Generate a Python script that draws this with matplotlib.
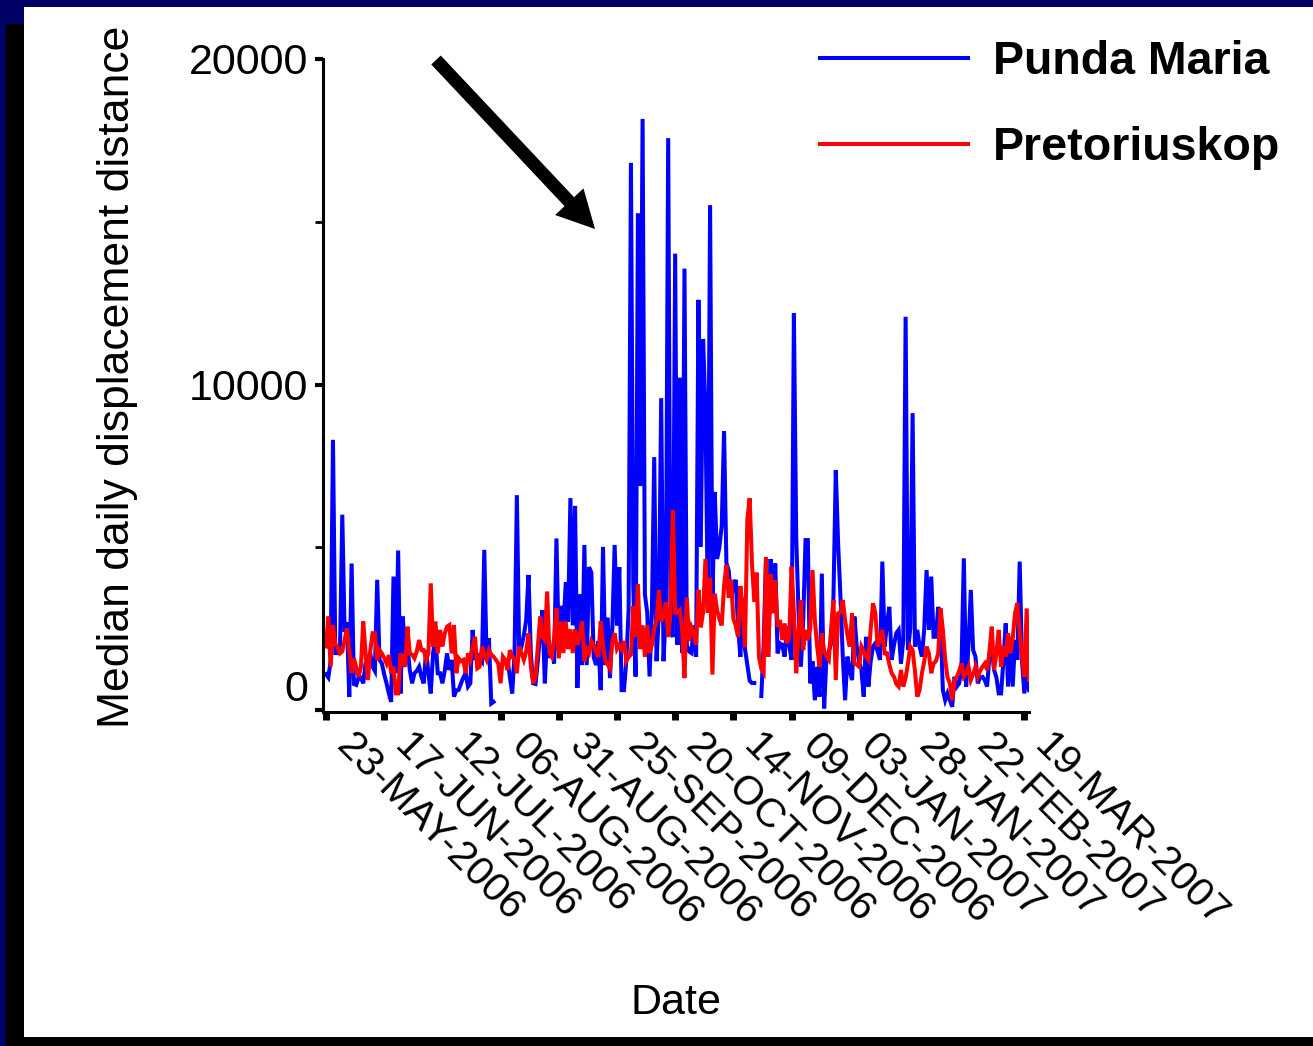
import numpy as np
import matplotlib
matplotlib.use("Agg")
import matplotlib.pyplot as plt
import matplotlib.transforms as mtransforms
from matplotlib.patches import Rectangle
from matplotlib.lines import Line2D

nan = np.nan

# median daily displacement (m), one value per day from 23 May 2006
start_day = "2006-05-23"
punda_maria = [
    1100, 1000, 1500, 8300, 1750, 1750, 1800, 6000, 2400, 2700,
    400, 4500, 800, 770, 1000, 1000, 820, 1430, 1600, 1740,
    1330, 1200, 4000, 1540, 1430, 1100, 820, 510, 250, 4100,
    1130, 4900, 510, 2870, 1740, 1950, 1230, 820, 1130, 1200,
    1330, 1020, 820, 1840, 1130, 510, 1740, 2250, 1130, 1130,
    820, 1200, 1740, 1230, 1540, 410, 600, 620, 820, 1000,
    1130, 720, 820, 2460, 1540, 1700, 1600, 1500, 4920, 1540,
    2200, 200, 250, nan, nan, nan, nan, nan, 1540, 1000,
    510, 1740, 6600, 1740, 1950, 2300, 2760, 4150, 1740, 820,
    800, 1500, 2350, 3070, 820, 2350, 1600, 1840, 1430, 5270,
    1840, 3200, 2500, 3930, 2720, 6510, 2600, 6270, 680, 3560,
    1380, 5070, 1380, 4390, 4220, 1630, 1380, 2120, 610, 5010,
    1380, 2840, 980, 2500, 5070, 2600, 4390, 610, 610, 1500,
    3070, 16810, 3810, 1030, 15250, 6880, 18160, 3560, 2990, 1030,
    3000, 7770, 1500, 3000, 9580, 1500, 3070, 17570, 2500, 2240,
    14020, 2000, 10210, 1750, 13560, 2000, 1800, 1750, 2600, 1630,
    12600, 5010, 11400, 9220, 3320, 15510, 3320, 6700, 4640, 5000,
    5670, 8570, 4520, 4280, 3450, 3800, 4000, 2600, 1630, 3450,
    1870, 1380, 900, 830, 830, nan, nan, 430, 2000, 4640,
    1630, 4640, 3000, 4500, 1740, 2050, 2000, 1640, 2560, 2000,
    1540, 12190, 5330, 3000, 1330, 2760, 5220, 5220, 820, 1500,
    300, 1330, 410, 4190, 50, 1640, 1800, 2050, 3480, 7370,
    5120, 3500, 1640, 300, 1640, 1200, 920, 2870, 1950, 1500,
    1230, 410, 2250, 720, 1500, 1950, 2050, 1800, 1540, 4560,
    1950, 2660, 3170, 1540, 2000, 2360, 2460, 1430, 2150, 12080,
    1840, 2500, 9120, 1950, 2460, 1950, 1640, 2500, 4300, 2460,
    4100, 2250, 2250, 3170, 2660, 610, 300, 510, 300, 100,
    1020, 720, 820, 1330, 4660, 720, 2000, 3690, 1840, 1640,
    820, 1000, 1020, 920, 720, 1640, 1950, 1230, 1000, 510,
    510, 1500, 2660, 720, 2250, 720, 2150, 1540, 4560, 1500,
    510, 1330, 610,
]
pretoriuskop = [
    1950, 2870, 1330, 2610, 2000, 1950, 1740, 1800, 2150, 2510,
    1840, 1130, 1590, 1300, 1020, 1330, 2720, 1740, 920, 1800,
    2360, 2360, 1540, 1840, 1740, 1600, 1430, 1690, 1130, 1330,
    510, 510, 1740, 1500, 1330, 2560, 1740, 1700, 1590, 1800,
    2150, 1840, 1840, 1540, 1740, 3890, 1950, 2720, 1740, 2460,
    1950, 2350, 2560, 2610, 1740, 2610, 1130, 1590, 1500, 1540,
    1130, 1740, 1540, 1950, 2250, 1280, 1330, 1950, 1700, 1540,
    1840, 1700, 1640, 1540, 1430, 820, 1640, 1540, 1230, 1840,
    1640, 1540, 1130, 1950, 1740, 1540, 1800, 2350, 1330, 820,
    1020, 1950, 2870, 2250, 2150, 3640, 1740, 1640, 2200, 3120,
    1590, 2720, 1750, 2720, 1870, 2480, 1750, 2480, 2000, 2300,
    2720, 1500, 1870, 1750, 2120, 2000, 1800, 1630, 2720, 2000,
    1500, 1400, 1270, 2120, 2360, 1870, 2000, 1870, 2120, 1500,
    1630, 1700, 3190, 2240, 3870, 1870, 2600, 1630, 2600, 1750,
    2000, 2500, 2720, 3690, 2720, 2900, 3310, 2240, 3000, 6150,
    2990, 2990, 3070, 2480, 980, 3450, 2120, 2540, 2360, 2000,
    3690, 2540, 3000, 4640, 2990, 4060, 1090, 3570, 3070, 2800,
    2600, 3810, 4460, 3450, 4000, 2800, 2600, 2240, 3810, 3070,
    1930, 5850, 6510, 4500, 3320, 4220, 1630, 1270, 1150, 4700,
    1630, 4170, 2970, 3990, 2560, 2760, 2150, 2660, 2050, 2250,
    4400, 2990, 1130, 2360, 3380, 1840, 2460, 2150, 2500, 4300,
    2760, 1950, 1330, 2360, 1800, 1640, 1540, 2500, 3380, 920,
    2970, 3000, 3380, 2760, 2300, 1950, 2970, 1430, 1400, 1330,
    1950, 1800, 1640, 1540, 2500, 3280, 2970, 1950, 2200, 2460,
    1740, 1740, 1400, 1130, 1020, 800, 720, 1230, 720, 1000,
    1430, 1950, 1840, 1200, 410, 610, 1130, 1500, 1950, 1740,
    1130, 1430, 1500, 1740, 3120, 2460, 1540, 1000, 820, 300,
    920, 1020, 1200, 1430, 1020, 1130, 1330, 920, 1100, 1330,
    1020, 1200, 1330, 1430, 1230, 1800, 2560, 1230, 1740, 2460,
    1330, 1950, 1640, 2360, 1740, 2200, 2970, 3280, 2360, 1640,
    1020, 3120, 920,
]
series_names = ["Punda Maria", "Pretoriuskop"]
date_labels = ["23-MAY-2006", "17-JUN-2006", "12-JUL-2006", "06-AUG-2006",
               "31-AUG-2006", "25-SEP-2006", "20-OCT-2006", "14-NOV-2006",
               "09-DEC-2006", "03-JAN-2007", "28-JAN-2007", "22-FEB-2007",
               "19-MAR-2007"]
y_major = [0, 10000, 20000]
y_minor = [5000, 15000]

d0 = np.datetime64(start_day)
days = d0 + np.arange(len(punda_maria))
tick_days = d0 + 25 * np.arange(len(date_labels))

W, H = 1313, 1046
font = ["Liberation Sans", "DejaVu Sans"]
plt.rcParams["font.family"] = font

fig = plt.figure(figsize=(W / 100, H / 100), dpi=100, facecolor="#000066")
# slide: black drop shadow under a white page
fig.patches.append(Rectangle((6 / W, 0), 1, (H - 24) / H, transform=fig.transFigure,
                             facecolor="black", edgecolor="none", zorder=-3))
fig.patches.append(Rectangle((24 / W, 9 / H), 1, 1030 / H, transform=fig.transFigure,
                             facecolor="white", edgecolor="none", zorder=-2))

left, right, top, bottom = 322.5, 1029, 59, 712
ax = fig.add_axes([left / W, (H - bottom) / H, (right - left) / W, (bottom - top) / H])
ax.set_facecolor("none")

ax.plot(days, punda_maria, color="#0000ff", lw=2.9, solid_joinstyle="miter")
ax.plot(days, pretoriuskop, color="#ff0000", lw=2.9, solid_joinstyle="miter")

ax.set_xlim(d0 - np.timedelta64(36, "h"), d0 + np.timedelta64(302, "D"))
ax.set_ylim(-61, 20000)

for s in ["top", "right"]:
    ax.spines[s].set_visible(False)
for s in ["left", "bottom"]:
    ax.spines[s].set_linewidth(2.2)

ax.set_yticks(y_major)
ax.set_yticklabels([str(v) for v in y_major], fontsize=31)
ax.set_yticks(y_minor, minor=True)
ax.tick_params(axis="y", which="major", direction="out", length=6, width=3, pad=4)
ax.tick_params(axis="y", which="minor", direction="out", length=6, width=2)
# keep the zero label clear of the x axis
ax.yaxis.get_major_ticks()[0].label1.set_va("bottom")

ax.set_xticks(tick_days)
ax.set_xticklabels(date_labels, fontsize=29.5, rotation=-45, ha="left", va="top",
                   rotation_mode="anchor")
ax.tick_params(axis="x", which="both", direction="out", length=6, width=5, pad=8)
shift = mtransforms.ScaledTranslation(30 / 100, 5 / 100, fig.dpi_scale_trans)
for lab in ax.get_xticklabels():
    lab.set_transform(lab.get_transform() + shift)

fig.text(118 / W, 1 - 377 / H, "Median daily displacement distance", rotation=90,
         ha="center", va="center", fontsize=32)
fig.text(676 / W, 1 - 1003 / H, "Date", ha="center", va="center", fontsize=31)

handles = [Line2D([], [], color="#0000ff", lw=2.9), Line2D([], [], color="#ff0000", lw=2.9)]
ax.legend(handles, series_names, loc="upper left", bbox_to_anchor=(820 / W, 1 - 40 / H),
          bbox_transform=fig.transFigure, frameon=False, borderpad=0, borderaxespad=0,
          handlelength=3.18, handletextpad=0.54, labelspacing=0.9,
          prop={"weight": "bold", "size": 33.5, "family": font})

# arrow pointing at the spring peak
ax.annotate("", xy=(595, H - 229), xytext=(436, H - 60), xycoords="figure pixels",
            arrowprops=dict(arrowstyle="simple,head_length=2.7,head_width=2.8,tail_width=0.94",
                            mutation_scale=10, fc="black", ec="black", lw=0,
                            shrinkA=0, shrinkB=0))

fig.savefig("out.png", dpi=100, facecolor=fig.get_facecolor())
